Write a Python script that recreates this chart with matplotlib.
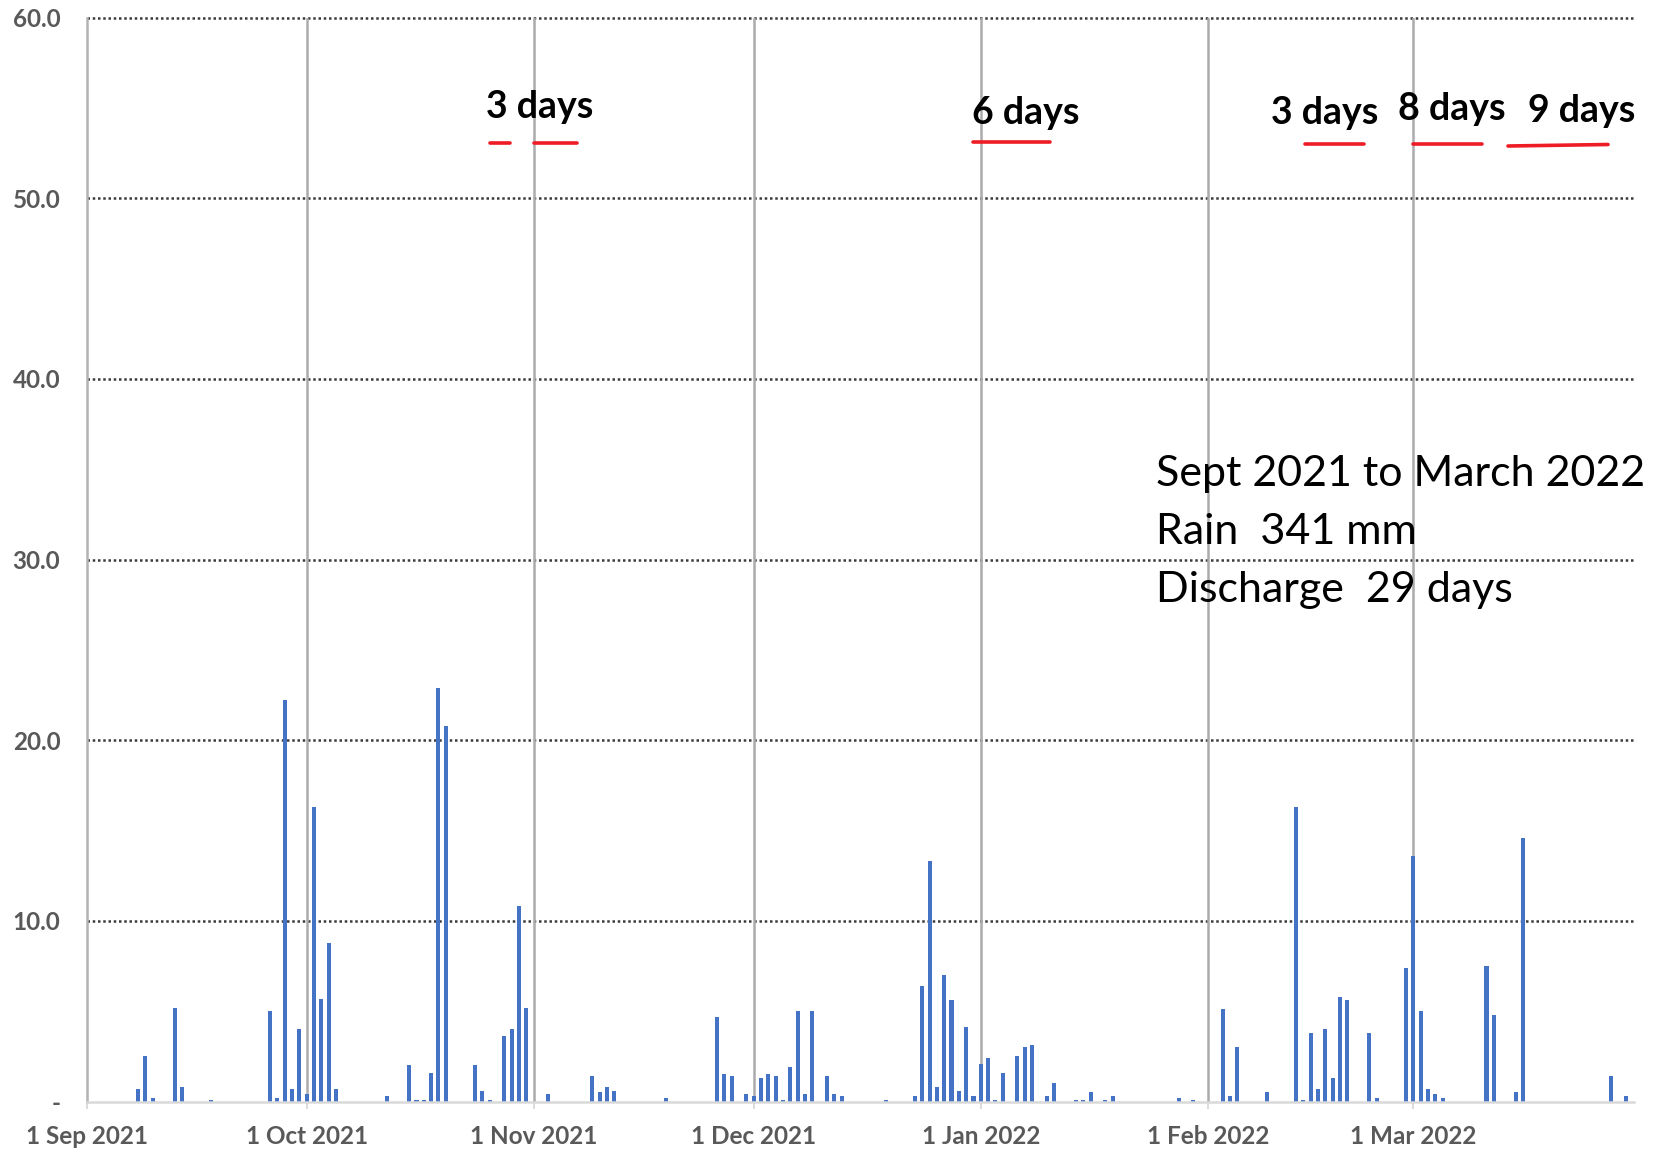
import matplotlib
matplotlib.use("Agg")
import matplotlib.pyplot as plt
from matplotlib.lines import Line2D
import pandas as pd

# ---- data (daily rainfall, mm) ----
dates = [
    "2021-09-08", "2021-09-09", "2021-09-10", "2021-09-13", "2021-09-14", "2021-09-18",
    "2021-09-26", "2021-09-27", "2021-09-28", "2021-09-29", "2021-09-30",
    "2021-10-01", "2021-10-02", "2021-10-03", "2021-10-04", "2021-10-05", "2021-10-12",
    "2021-10-15", "2021-10-16", "2021-10-17", "2021-10-18", "2021-10-19", "2021-10-20",
    "2021-10-24", "2021-10-25", "2021-10-26", "2021-10-28", "2021-10-29", "2021-10-30",
    "2021-10-31",
    "2021-11-03", "2021-11-09", "2021-11-10", "2021-11-11", "2021-11-12", "2021-11-19",
    "2021-11-26", "2021-11-27", "2021-11-28", "2021-11-30",
    "2021-12-01", "2021-12-02", "2021-12-03", "2021-12-04", "2021-12-05", "2021-12-06",
    "2021-12-07", "2021-12-08", "2021-12-09", "2021-12-11", "2021-12-12", "2021-12-13",
    "2021-12-19", "2021-12-23", "2021-12-24", "2021-12-25", "2021-12-26", "2021-12-27",
    "2021-12-28", "2021-12-29", "2021-12-30", "2021-12-31",
    "2022-01-01", "2022-01-02", "2022-01-03", "2022-01-04", "2022-01-06", "2022-01-07",
    "2022-01-08", "2022-01-10", "2022-01-11", "2022-01-14", "2022-01-15", "2022-01-16",
    "2022-01-18", "2022-01-19", "2022-01-28", "2022-01-30",
    "2022-02-03", "2022-02-04", "2022-02-05", "2022-02-09", "2022-02-13", "2022-02-14",
    "2022-02-15", "2022-02-16", "2022-02-17", "2022-02-18", "2022-02-19", "2022-02-20",
    "2022-02-23", "2022-02-24", "2022-02-28",
    "2022-03-01", "2022-03-02", "2022-03-03", "2022-03-04", "2022-03-05", "2022-03-11",
    "2022-03-12", "2022-03-15", "2022-03-16", "2022-03-28", "2022-03-30",
]
rain_mm = [
    0.7, 2.5, 0.2, 5.2, 0.8, 0.1,
    5.0, 0.2, 22.2, 0.7, 4.0,
    0.4, 16.3, 5.7, 8.8, 0.7, 0.3,
    2.0, 0.1, 0.1, 1.6, 22.9, 20.8,
    2.0, 0.6, 0.1, 3.6, 4.0, 10.8,
    5.2,
    0.4, 1.4, 0.5, 0.8, 0.6, 0.2,
    4.7, 1.5, 1.4, 0.4,
    0.3, 1.3, 1.5, 1.4, 0.1, 1.9,
    5.0, 0.4, 5.0, 1.4, 0.4, 0.3,
    0.1, 0.3, 6.4, 13.3, 0.8, 7.0,
    5.6, 0.6, 4.1, 0.3,
    2.1, 2.4, 0.1, 1.6, 2.5, 3.0,
    3.1, 0.3, 1.0, 0.1, 0.1, 0.5,
    0.1, 0.3, 0.2, 0.1,
    5.1, 0.3, 3.0, 0.5, 16.3, 0.1,
    3.8, 0.7, 4.0, 1.3, 5.8, 5.6,
    3.8, 0.2, 7.4,
    13.6, 5.0, 0.7, 0.4, 0.2, 7.5,
    4.8, 0.5, 14.6, 1.4, 0.3,
]
month_ticks = ["2021-09-01", "2021-10-01", "2021-11-01", "2021-12-01",
               "2022-01-01", "2022-02-01", "2022-03-01"]
month_labels = ["1 Sep 2021", "1 Oct 2021", "1 Nov 2021", "1 Dec 2021",
                "1 Jan 2022", "1 Feb 2022", "1 Mar 2022"]
y_ticks = [0, 10, 20, 30, 40, 50, 60]
y_labels = ["-", "10.0", "20.0", "30.0", "40.0", "50.0", "60.0"]

gap_labels = ["3 days", "6 days", "3 days", "8 days", "9 days"]
summary_lines = ["Sept 2021 to March 2022", "Rain  341 mm", "Discharge  29 days"]

# ---- figure ----
W, H = 1654, 1151
fig = plt.figure(figsize=(W / 100, H / 100), dpi=100)
fig.patch.set_facecolor("white")

def fx(px):
    return px / W

def fy(py):
    return 1 - py / H

ax_l, ax_r, ax_t, ax_b = 86.7, 1634, 17.5, 1101.5
ax = fig.add_axes([fx(ax_l), fy(ax_b), (ax_r - ax_l) / W, (ax_b - ax_t) / H])

x = pd.to_datetime(dates)
ax.bar(x, rain_mm, width=0.55, color="#4472C4", zorder=3)

ax.set_xlim(pd.Timestamp("2021-09-01"), pd.Timestamp("2022-03-31 03:00"))
ax.set_ylim(0, 60)

# horizontal dotted gridlines
for yv in y_ticks[1:]:
    ax.axhline(yv, color="#3a3a3a", lw=1.8, linestyle=(0, (1, 1.1)), zorder=1, clip_on=False)

# vertical month gridlines
xt = pd.to_datetime(month_ticks)
for xv in xt[1:]:
    ax.axvline(xv, color="#ababab", lw=1.8, zorder=2)

ax.set_xticks(xt)
ax.set_xticklabels(month_labels)
ax.set_yticks(y_ticks)
ax.set_yticklabels(y_labels)

for lab in ax.get_xticklabels() + ax.get_yticklabels():
    lab.set_fontfamily(["Lato", "DejaVu Sans"])
    lab.set_fontweight("bold")
    lab.set_fontsize(17.5)
    lab.set_color("#595959")

ax.tick_params(axis="y", length=0, pad=19)
ax.tick_params(axis="x", length=5, width=1.3, color="#d9d9d9", pad=12)

for s in ["top", "right"]:
    ax.spines[s].set_visible(False)
ax.spines["left"].set_color("#b3b3b3")
ax.spines["left"].set_linewidth(1.8)
ax.spines["bottom"].set_color("#d9d9d9")
ax.spines["bottom"].set_linewidth(1.8)
ax.spines["bottom"].set_zorder(4)

# ---- annotations ----
gap_pos = [(486, 118), (972, 124), (1271, 124), (1398, 120), (1528, 122)]
for txt, (px, py) in zip(gap_labels, gap_pos):
    fig.text(fx(px), fy(py), txt, ha="left", va="baseline", fontsize=27,
             fontweight="bold", family=["Lato", "DejaVu Sans"], color="black")

red_lines = [((490, 510), (142.7, 142.7)), ((534, 577), (142.7, 142.7)),
             ((973, 1050), (142.3, 142.3)), ((1305, 1364), (144.3, 144.3)),
             ((1413, 1482), (144, 144)), ((1508, 1608), (146, 144.5))]
for (xs, ys) in red_lines:
    fig.add_artist(Line2D([fx(xs[0]), fx(xs[1])], [fy(ys[0]), fy(ys[1])],
                          color="#ee1c25", lw=2.6, solid_capstyle="round"))

for txt, py in zip(summary_lines, [486, 544, 602]):
    fig.text(fx(1156), fy(py), txt, ha="left", va="baseline", fontsize=31,
             family=["Lato", "DejaVu Sans"], color="black")

fig.savefig("out.png", dpi=100)
